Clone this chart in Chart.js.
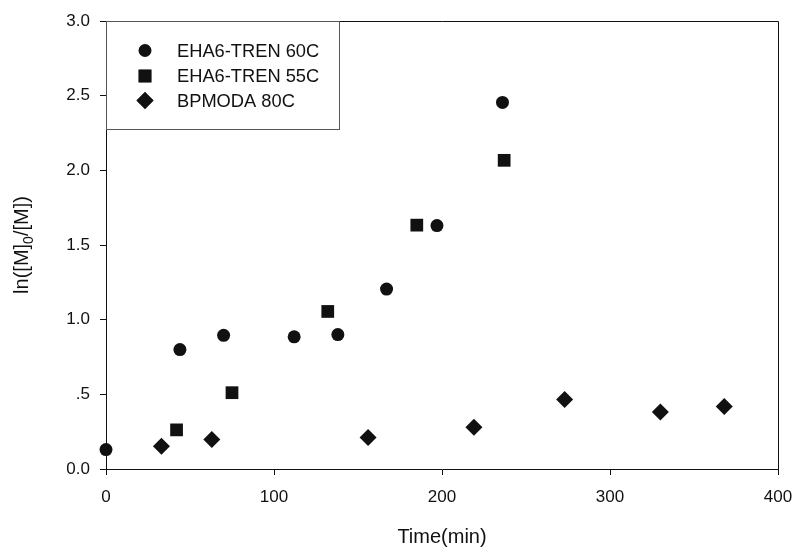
<!DOCTYPE html>
<html>
<head>
<meta charset="utf-8">
<script src="https://cdn.jsdelivr.net/npm/chart.js@4"></script>
<style>
  body { margin: 0; background: #fff; }
  canvas { display: block; }
</style>
</head>
<body>
<canvas id="kinetics" width="796" height="552"></canvas>
<script>
  // Data
  const seriesNames = ['EHA6-TREN 60C', 'EHA6-TREN 55C', 'BPMODA 80C'];

  const tren60Time = [0, 44, 70, 112, 138, 167, 197, 236];
  const tren60Ln = [0.13, 0.80, 0.895, 0.885, 0.90, 1.205, 1.63, 2.455];

  const tren55Time = [42, 75, 132, 185, 237];
  const tren55Ln = [0.262, 0.511, 1.055, 1.633, 2.067];

  const bpmodaTime = [33, 63, 156, 219, 273, 330, 368];
  const bpmodaLn = [0.153, 0.198, 0.211, 0.28, 0.465, 0.382, 0.418];

  const xTicks = [0, 100, 200, 300, 400];
  const yTicks = [0, 0.5, 1.0, 1.5, 2.0, 2.5, 3.0];

  const FONT = "'Liberation Sans', Arial, sans-serif";
  const INK = '#111';

  function toPoints(xs, ys) {
    return xs.map((x, i) => ({ x: x, y: ys[i] }));
  }

  // Top + right frame lines
  const framePlugin = {
    id: 'frame',
    beforeDatasetsDraw(chart) {
      const { ctx, chartArea: a } = chart;
      ctx.save();
      ctx.strokeStyle = INK;
      ctx.lineWidth = 1;
      ctx.beginPath();
      ctx.moveTo(a.left, a.top + 0.5);
      ctx.lineTo(a.right + 0.5, a.top + 0.5);
      ctx.lineTo(a.right + 0.5, a.bottom);
      ctx.stroke();
      ctx.restore();
    }
  };

  // Y title with subscript 0
  const yTitlePlugin = {
    id: 'yTitle',
    afterDraw(chart) {
      const { ctx, chartArea: a } = chart;
      const big = '20px ' + FONT;
      const small = '14px ' + FONT;
      const parts = [['ln([M]', big, 0], ['0', small, 5], ['/[M])', big, 0]];
      ctx.save();
      let total = 0;
      parts.forEach(p => { ctx.font = p[1]; total += ctx.measureText(p[0]).width; });
      ctx.translate(28, (a.top + a.bottom) / 2);
      ctx.rotate(-Math.PI / 2);
      ctx.fillStyle = INK;
      ctx.textBaseline = 'alphabetic';
      let x = -total / 2;
      parts.forEach(p => {
        ctx.font = p[1];
        ctx.fillText(p[0], x, p[2]);
        x += ctx.measureText(p[0]).width;
      });
      ctx.restore();
    }
  };

  // Boxed legend in the upper-left corner of the plot
  const legendBoxPlugin = {
    id: 'legendBox',
    afterDraw(chart) {
      const { ctx, chartArea: a } = chart;
      const boxR = 339, boxB = 129;
      ctx.save();
      ctx.fillStyle = '#fff';
      ctx.fillRect(a.left, a.top, boxR - a.left, boxB - a.top);
      ctx.strokeStyle = '#555';
      ctx.lineWidth = 1;
      ctx.strokeRect(a.left + 0.5, a.top + 0.5, boxR - a.left, boxB - a.top);
      const rows = [50.5, 76, 100.5];
      chart.data.datasets.forEach((ds, i) => {
        Chart.helpers.drawPoint(ctx, {
          pointStyle: ds.pointStyle,
          radius: ds.pointRadius,
          borderWidth: 0
        }, 145, rows[i]);
        ctx.fillStyle = INK;
        ctx.fill();
        ctx.font = '18.3px ' + FONT;
        ctx.textBaseline = 'middle';
        ctx.fillText(ds.label, 177, rows[i] + 1);
      });
      ctx.restore();
    }
  };

  const ctx = document.getElementById('kinetics').getContext('2d');
  new Chart(ctx, {
    type: 'scatter',
    data: {
      datasets: [
        {
          label: seriesNames[0],
          data: toPoints(tren60Time, tren60Ln),
          pointStyle: 'circle',
          pointRadius: 6.5,
          backgroundColor: INK,
          borderColor: INK,
          borderWidth: 0,
          clip: false
        },
        {
          label: seriesNames[1],
          data: toPoints(tren55Time, tren55Ln),
          pointStyle: 'rect',
          pointRadius: 9,
          backgroundColor: INK,
          borderColor: INK,
          borderWidth: 0,
          clip: false
        },
        {
          label: seriesNames[2],
          data: toPoints(bpmodaTime, bpmodaLn),
          pointStyle: 'rectRot',
          pointRadius: 8.5,
          backgroundColor: INK,
          borderColor: INK,
          borderWidth: 0,
          clip: false
        }
      ]
    },
    options: {
      responsive: false,
      animation: false,
      layout: { padding: { top: 21, right: 18, left: 0, bottom: 0 } },
      plugins: {
        legend: { display: false },
        tooltip: { enabled: false }
      },
      scales: {
        x: {
          type: 'linear',
          min: 0,
          max: 400,
          afterFit(scale) {
            scale.height = 83;
            scale.paddingLeft = 0;
            scale.paddingRight = 0;
          },
          afterBuildTicks(scale) { scale.ticks = xTicks.map(v => ({ value: v })); },
          ticks: {
            color: INK,
            font: { family: FONT, size: 17 },
            padding: 12,
            maxRotation: 0
          },
          grid: { drawOnChartArea: false, tickLength: 6, color: INK },
          border: { display: true, color: INK, width: 1 },
          title: {
            display: true,
            text: 'Time(min)',
            color: INK,
            font: { family: FONT, size: 20 },
            padding: { top: 0, bottom: 3 }
          }
        },
        y: {
          type: 'linear',
          min: 0,
          max: 3,
          afterFit(scale) {
            scale.width = 106;
            scale.paddingTop = 0;
            scale.paddingBottom = 0;
          },
          afterBuildTicks(scale) { scale.ticks = yTicks.map(v => ({ value: v })); },
          ticks: {
            color: INK,
            font: { family: FONT, size: 17 },
            padding: 10,
            callback: v => (v === 0.5 ? '.5' : v.toFixed(1))
          },
          grid: { drawOnChartArea: false, tickLength: 6, color: INK },
          border: { display: true, color: INK, width: 1 }
        }
      }
    },
    plugins: [framePlugin, yTitlePlugin, legendBoxPlugin]
  });
</script>
</body>
</html>
